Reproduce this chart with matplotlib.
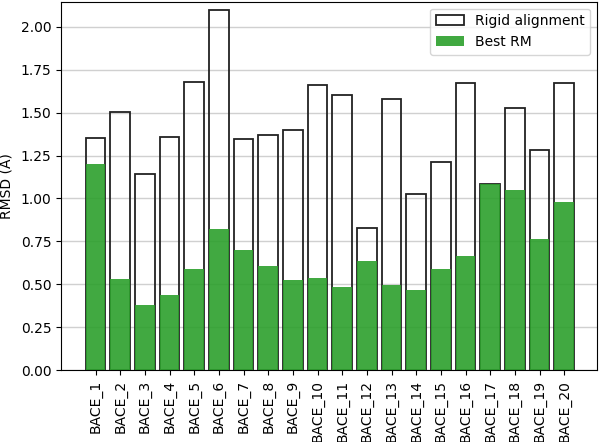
import matplotlib
matplotlib.use("Agg")
import matplotlib.pyplot as plt
import numpy as np

categories = [f"BACE_{i}" for i in range(1, 21)]
rigid = [1.353, 1.506, 1.145, 1.359, 1.678, 2.097, 1.349, 1.368, 1.400, 1.664,
         1.603, 0.830, 1.582, 1.026, 1.213, 1.672, 1.085, 1.526, 1.281, 1.673]
best_rm = [1.199, 0.532, 0.377, 0.437, 0.589, 0.824, 0.698, 0.605, 0.527, 0.538,
           0.486, 0.637, 0.496, 0.466, 0.591, 0.666, 1.083, 1.050, 0.766, 0.981]
yticks = [0.0, 0.25, 0.5, 0.75, 1.0, 1.25, 1.5, 1.75, 2.0]

fig = plt.figure(figsize=(6.0, 4.42), dpi=100)
ax = fig.add_axes([61/600, 1-370/442, (597-61)/600, (370-1.7)/442])

x = np.arange(len(categories))
ax.grid(axis="y", color="#d0d0d0", linewidth=1.0, zorder=0)
ax.set_axisbelow(True)
ax.bar(x, rigid, width=0.8, fill=False, edgecolor="#222222", linewidth=1.3,
       label="Rigid alignment", zorder=2)
ax.bar(x, best_rm, width=0.8, color="tab:green", alpha=0.9, linewidth=0,
       label="Best RM", zorder=3)

ax.set_xticks(x)
ax.set_xticklabels(categories, rotation=90, fontsize=10)
ax.set_yticks(yticks)
ax.set_yticklabels([f"{v:.2f}" for v in yticks], fontsize=10)
ax.set_xlim(-1.40, 20.33)
ax.set_ylim(0, 2.147)
ax.set_ylabel("RMSD (Å)", fontsize=10)
ax.legend(loc="upper right", fontsize=10)

fig.savefig("out.png", dpi=100)
